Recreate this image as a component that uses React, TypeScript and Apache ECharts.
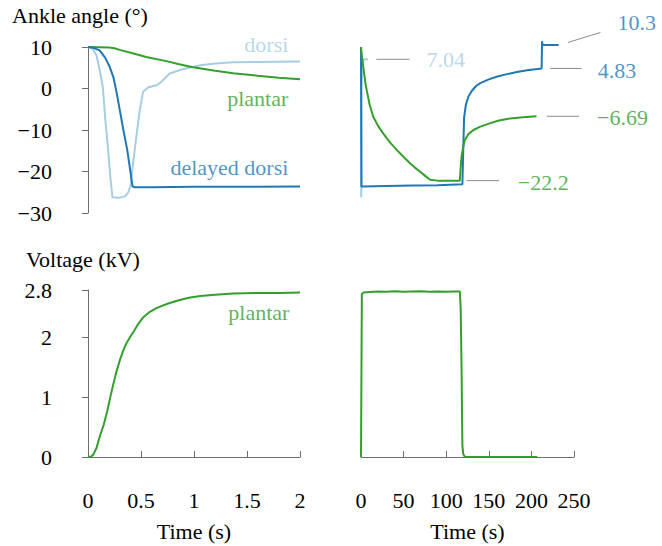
import React, { useEffect, useRef } from "react";
import * as echarts from "echarts";

// ---------- data ----------
// Ankle angle, short time window (t in s, angle in deg)
const dorsiShort: number[][] = [
  [0, 10], [0.04, 9.7], [0.08, 8], [0.11, 4.5], [0.14, 0.3], [0.165, -8], [0.19, -14.8],
  [0.21, -21], [0.23, -26.2], [0.3, -26.3], [0.35, -26], [0.38, -25], [0.4, -23.6],
  [0.43, -17], [0.46, -10.8], [0.49, -5], [0.52, -0.8], [0.57, 0.3], [0.65, 0.8],
  [0.7, 1.8], [0.77, 3.6], [0.9, 4.7], [1.06, 5.6], [1.2, 6], [1.37, 6.3], [1.6, 6.4], [2, 6.5],
];
const plantarShort: number[][] = [
  [0, 10], [0.1, 9.95], [0.2, 9.9], [0.25, 9.7], [0.3, 9.3], [0.42, 8.5], [0.55, 7.6],
  [0.74, 6.6], [0.85, 5.9], [0.99, 5.1], [1.2, 4.3], [1.37, 3.7], [1.6, 3.1], [1.8, 2.6], [2, 2.2],
];
const delayedShort: number[][] = [
  [0, 10], [0.05, 9.8], [0.11, 9.2], [0.16, 7.5], [0.2, 5.5], [0.24, 2.7], [0.27, -1],
  [0.3, -5.2], [0.33, -9.5], [0.37, -14.8], [0.4, -20], [0.42, -23.6], [0.44, -23.8],
  [0.6, -23.8], [1, -23.7], [1.5, -23.7], [2, -23.6],
];
// Ankle angle, long time window (t in s)
const dorsiLong: number[][] = [
  [0, 10], [0.25, -26.2], [0.4, -23.6], [0.6, 0.5], [2, 6.5], [4, 7.04], [8, 7.04],
];
const plantarLong: number[][] = [
  [0, 10], [1, 8], [2.7, 5.2], [5, 1.5], [6.7, -0.4], [10, -3.8], [14.4, -6.8], [20, -9],
  [26, -10.8], [34, -13], [42, -14.8], [50, -16.5], [57.5, -18], [63, -19], [69, -20],
  [75, -21], [81, -22], [90, -22.2], [100, -22.2], [116, -22.2], [117, -19], [118, -16.4],
  [120, -14], [122, -12.4], [126, -11], [132, -10], [140, -9.2], [151, -8.4], [162, -7.7],
  [175, -7.2], [190, -6.9], [206, -6.69],
];
const delayedLong: number[][] = [
  [0, 10], [0.5, -23.6], [2, -23.6], [30, -23.5], [60, -23.4], [90, -23.3], [119, -23.1],
  [120, -15], [121, -7], [123, -4], [126, -2], [130, -0.6], [135, 0.6], [140, 1.3],
  [150, 2.2], [160, 2.9], [170, 3.4], [183, 4.0], [195, 4.4], [212, 4.83], [212.5, 11.4],
  [213, 10.5], [232, 10.5],
];
// Voltage (kV)
const voltageShort: number[][] = [
  [0, 0], [0.03, 0.01], [0.05, 0.04], [0.08, 0.15], [0.11, 0.34], [0.15, 0.55], [0.18, 0.76],
  [0.21, 1.0], [0.24, 1.23], [0.27, 1.44], [0.3, 1.62], [0.33, 1.77], [0.36, 1.9], [0.4, 2.02],
  [0.43, 2.1], [0.47, 2.22], [0.52, 2.34], [0.58, 2.43], [0.65, 2.5], [0.75, 2.57],
  [0.84, 2.62], [0.95, 2.67], [1.06, 2.7], [1.2, 2.72], [1.37, 2.74], [1.6, 2.75], [1.8, 2.75], [2, 2.76],
];
const voltageLong: number[][] = [
  [0, 0], [1, 2.73], [3, 2.76], [10, 2.765], [20, 2.775], [30, 2.77], [40, 2.78], [50, 2.77],
  [60, 2.775], [70, 2.78], [80, 2.77], [90, 2.775], [100, 2.77], [110, 2.775], [116, 2.775],
  [117, 2.5], [118, 1.5], [119, 0.2], [120, 0.05], [122, 0], [207, 0],
];

// axis ticks
const angleTicks = [-30, -20, -10, 0, 10];
const voltageTicks = [0, 1, 2, 2.8];
const shortTimeTicks = [0, 0.5, 1, 1.5, 2];
const longTimeTicks = [0, 50, 100, 150, 200, 250];

// annotations (value labels in long-window angle panel)
const endLabels = ["7.04", "10.3", "4.83", "\u22126.69", "\u221222.2"];
const endLeaders: number[][][] = [
  [[18, 7.04], [57, 7.04]],
  [[243, 11.1], [281, 13.5]],
  [[222, 4.83], [259, 4.83]],
  [[218, -6.69], [256, -6.69]],
  [[124, -22.2], [162, -22.2]],
];
const endLabelAnchors: number[][] = [
  [77, 7.04], [301, 16.0], [278, 4.4], [277, -7.0], [184, -22.6],
];

const seriesNames = ["dorsi", "plantar", "delayed dorsi"];
const seriesNameAnchors: number[][] = [[1.89, 10.6], [1.89, -2.4], [1.89, -19.1]];

const LIGHT = "#a6cee3";
const DARK = "#1f78b4";
const GREEN = "#33a02c";
const AXIS = "#6e6e6e";
const LEADER = "#8c8c8c";
const FONT = "Liberation Serif";
const FS = 22;

const fmt = (v: number) => String(v).replace("-", "\u2212");

export default function App() {
  const ref = useRef<HTMLDivElement>(null);
  useEffect(() => {
    if (!ref.current) return;
    const chart = echarts.init(ref.current, undefined, { renderer: "svg" });

    const line = (data: number[][], xi: number, color: string, width = 2) => ({
      type: "line",
      xAxisIndex: xi,
      yAxisIndex: xi,
      data,
      symbol: "none",
      showSymbol: false,
      clip: false,
      silent: true,
      lineStyle: { color, width },
      itemStyle: { color },
    });
    const labelSeries = (pt: number[], text: string, color: string, xi: number, side: "left" | "right") => ({
      type: "scatter",
      xAxisIndex: xi,
      yAxisIndex: xi,
      data: [pt],
      symbolSize: 0,
      clip: false,
      silent: true,
      label: {
        show: true,
        position: side,
        distance: 0,
        formatter: () => text,
        color,
        fontSize: FS,
        fontFamily: FONT,
      },
    });

    const labelColors = [LIGHT, DARK, DARK, GREEN, GREEN];
    const nameColors = [LIGHT, GREEN, DARK];

    const hiddenX = (max: number) => ({ type: "value", min: 0, max, show: false });
    const hiddenY = (min: number, max: number) => ({ type: "value", min, max, show: false });

    const visX = (gi: number, max: number, interval: number, ticks: number[]) => ({
      type: "value",
      gridIndex: gi,
      min: 0,
      max,
      interval,
      offset: 25,
      name: "Time (s)",
      nameLocation: "middle",
      nameGap: 38,
      nameTextStyle: { color: "#000", fontSize: FS, fontFamily: FONT },
      axisLine: { show: true, lineStyle: { color: AXIS, width: 1 } },
      axisTick: { show: true, inside: true, length: 6, lineStyle: { color: AXIS }, customValues: ticks },
      axisLabel: { color: "#000", fontSize: FS, fontFamily: FONT, margin: 7, formatter: fmt, customValues: ticks },
      splitLine: { show: false },
    });
    const visY = (gi: number, min: number, max: number, ticks: number[]) => ({
      type: "value",
      gridIndex: gi,
      min,
      max,
      offset: 27,
      axisLine: { show: true, lineStyle: { color: AXIS, width: 1 } },
      axisTick: { show: true, inside: false, length: 6, lineStyle: { color: AXIS }, customValues: ticks },
      axisLabel: { color: "#000", fontSize: FS, fontFamily: FONT, margin: 9, formatter: fmt, customValues: ticks, showMinLabel: true, showMaxLabel: true },
      splitLine: { show: false },
    });

    chart.setOption({
      animation: false,
      textStyle: { fontFamily: FONT },
      grid: [
        { left: 88, top: 47, width: 212, height: 166 },
        { left: 361, top: 47, width: 213, height: 166 },
        { left: 88, top: 290, width: 212, height: 167 },
        { left: 361, top: 290, width: 213, height: 167 },
      ],
      xAxis: [
        { ...hiddenX(2), gridIndex: 0 },
        { ...hiddenX(250), gridIndex: 1 },
        visX(2, 2, 0.5, shortTimeTicks),
        visX(3, 250, 50, longTimeTicks),
      ],
      yAxis: [
        visY(0, -30, 10, angleTicks),
        { ...hiddenY(-30, 10), gridIndex: 1 },
        visY(2, 0, 2.8, voltageTicks),
        { ...hiddenY(0, 2.8), gridIndex: 3 },
      ],
      series: [
        line(dorsiShort, 0, LIGHT),
        line(plantarShort, 0, GREEN),
        line(delayedShort, 0, DARK),
        line(dorsiLong, 1, LIGHT),
        line(delayedLong, 1, DARK),
        line(plantarLong, 1, GREEN),
        line(voltageShort, 2, GREEN),
        line(voltageLong, 3, GREEN),
        ...endLabels.map((t, i) => labelSeries(endLabelAnchors[i], t, labelColors[i], 1, "right")),
        ...seriesNames.map((t, i) => labelSeries(seriesNameAnchors[i], t, nameColors[i], 0, "left")),
        labelSeries([1.9, 2.42], "plantar", GREEN, 2, "left"),
      ],
    });

    // leader lines, placed through the chart's own scales
    const leaders = endLeaders.map((seg) => {
      const a = chart.convertToPixel({ gridIndex: 1 }, seg[0]) as number[];
      const b = chart.convertToPixel({ gridIndex: 1 }, seg[1]) as number[];
      return {
        type: "line",
        silent: true,
        shape: { x1: a[0], y1: a[1], x2: b[0], y2: b[1] },
        style: { stroke: LEADER, lineWidth: 1 },
      };
    });
    chart.setOption({
      graphic: [
        { type: "text", left: 12, top: 4, style: { text: "Ankle angle (°)", fill: "#000", fontSize: FS, fontFamily: FONT } },
        { type: "text", left: 26, top: 248, style: { text: "Voltage (kV)", fill: "#000", fontSize: FS, fontFamily: FONT } },
        ...leaders,
      ],
    });
    return () => chart.dispose();
  }, []);
  return <div ref={ref} style={{ position: "fixed", left: 0, top: 0, width: 662, height: 546, background: "#fff" }} />;
}
